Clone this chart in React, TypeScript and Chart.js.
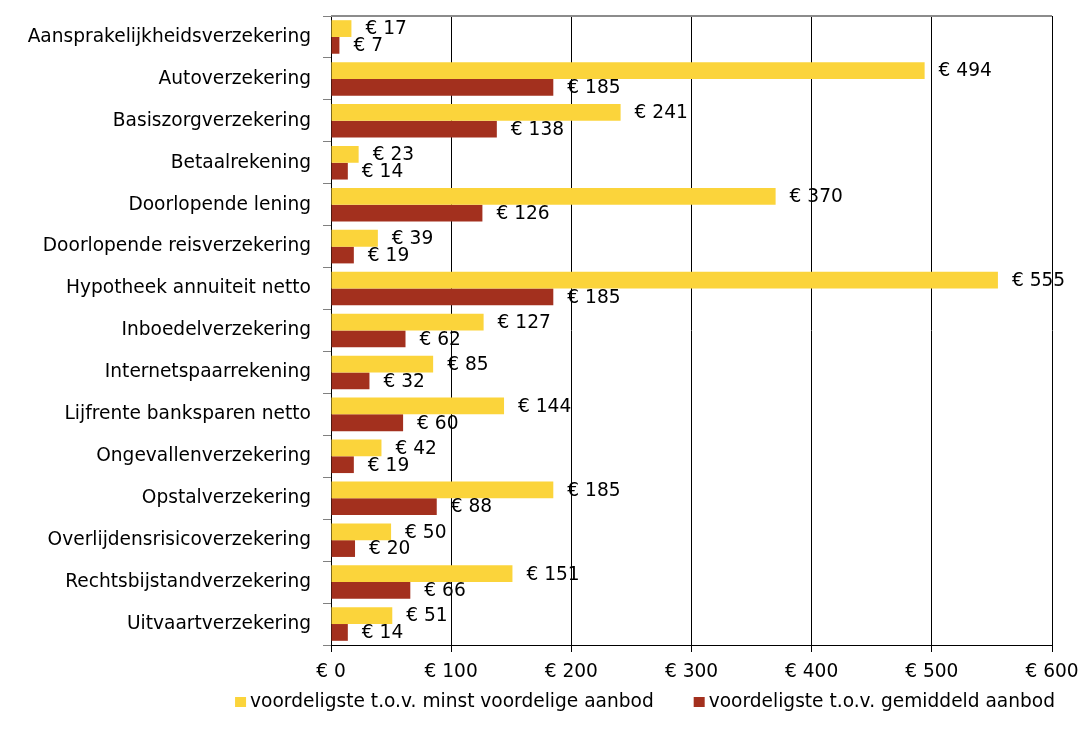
import React, { useEffect, useRef } from 'react';
import { Chart, registerables } from 'chart.js';

Chart.register(...registerables);

const categories = [
  'Aansprakelijkheidsverzekering',
  'Autoverzekering',
  'Basiszorgverzekering',
  'Betaalrekening',
  'Doorlopende lening',
  'Doorlopende reisverzekering',
  'Hypotheek annuiteit netto',
  'Inboedelverzekering',
  'Internetspaarrekening',
  'Lijfrente banksparen netto',
  'Ongevallenverzekering',
  'Opstalverzekering',
  'Overlijdensrisicoverzekering',
  'Rechtsbijstandverzekering',
  'Uitvaartverzekering',
];

const minstVoordelig = [17, 494, 241, 23, 370, 39, 555, 127, 85, 144, 42, 185, 50, 151, 51];
const gemiddeld = [7, 185, 138, 14, 126, 19, 185, 62, 32, 60, 19, 88, 20, 66, 14];

const seriesNames = [
  'voordeligste t.o.v. minst voordelige aanbod',
  'voordeligste t.o.v. gemiddeld aanbod',
];

const xMin = 0;
const xMax = 600;
const xStep = 100;
const currency = '€ ';

const FONT_FAMILY = '"DejaVu Sans", Verdana, sans-serif';
const FONT_SIZE = 18.6;
const YELLOW = '#FBD43B';
const RED = '#A3301E';

const valueLabels = {
  id: 'valueLabels',
  afterDatasetsDraw(chart: any) {
    const ctx = chart.ctx;
    ctx.save();
    ctx.font = `${FONT_SIZE}px ${FONT_FAMILY}`;
    ctx.fillStyle = '#000';
    ctx.textAlign = 'left';
    ctx.textBaseline = 'middle';
    chart.data.datasets.forEach((ds: any, i: number) => {
      const meta = chart.getDatasetMeta(i);
      meta.data.forEach((bar: any, j: number) => {
        ctx.fillText(currency + ds.data[j], bar.x + 14, bar.y + 1);
      });
    });
    ctx.restore();
  },
};

const topBorder = {
  id: 'topBorder',
  beforeDatasetsDraw(chart: any) {
    const { ctx, chartArea } = chart;
    ctx.save();
    ctx.strokeStyle = '#8c8c8c';
    ctx.lineWidth = 2;
    ctx.beginPath();
    ctx.moveTo(chartArea.left, chartArea.top);
    ctx.lineTo(chartArea.right, chartArea.top);
    ctx.stroke();
    ctx.restore();
  },
};

// Legend drawn below the axis: box, small gap, text; items separated by a wider gap.
const bottomLegend = {
  id: 'bottomLegend',
  afterDraw(chart: any) {
    const { ctx, chartArea } = chart;
    const box = 11;
    const boxGap = 4;
    const itemGap = 40;
    ctx.save();
    ctx.font = `${FONT_SIZE}px ${FONT_FAMILY}`;
    ctx.textBaseline = 'middle';
    ctx.textAlign = 'left';
    const items = chart.data.datasets.map((ds: any) => ({
      text: ds.label,
      color: ds.backgroundColor,
      width: box + boxGap + ctx.measureText(ds.label).width,
    }));
    const total = items.reduce((s: number, it: any) => s + it.width, 0) + itemGap * (items.length - 1);
    let x = chartArea.right + 3 - total;
    const y = chartArea.bottom + 57;
    items.forEach((it: any) => {
      ctx.fillStyle = it.color;
      ctx.fillRect(x, y - 5, box, 10);
      ctx.fillStyle = '#000';
      ctx.fillText(it.text, x + box + boxGap, y);
      x += it.width + itemGap;
    });
    ctx.restore();
  },
};

export default function App() {
  const canvasRef = useRef<HTMLCanvasElement | null>(null);

  useEffect(() => {
    document.body.style.margin = '0';
    const canvas = canvasRef.current;
    if (!canvas) return;
    const chart = new Chart(canvas, {
      type: 'bar',
      data: {
        labels: categories,
        datasets: [
          {
            label: seriesNames[0],
            data: minstVoordelig,
            backgroundColor: YELLOW,
            categoryPercentage: 0.8,
            barPercentage: 1.0,
          },
          {
            label: seriesNames[1],
            data: gemiddeld,
            backgroundColor: RED,
            categoryPercentage: 0.8,
            barPercentage: 1.0,
          },
        ],
      },
      options: {
        indexAxis: 'y',
        responsive: false,
        animation: false,
        layout: { padding: { left: 0, right: 0, top: 16, bottom: 51 } },
        font: { family: FONT_FAMILY, size: FONT_SIZE },
        color: '#000',
        plugins: {
          tooltip: { enabled: false },
          legend: { display: false },
        },
        scales: {
          x: {
            type: 'linear',
            min: xMin,
            max: xMax,
            ticks: {
              stepSize: xStep,
              font: { family: FONT_FAMILY, size: FONT_SIZE },
              color: '#000',
              padding: 9,
              callback: (v: any) => currency + v,
            },
            grid: {
              color: '#000',
              lineWidth: 1,
              tickLength: 7,
            },
            border: { color: '#000', width: 1 },
            afterFit: (scale: any) => {
              scale.height = 37;
              scale.paddingRight = 32;
              scale.paddingLeft = 0;
            },
          },
          y: {
            type: 'category',
            ticks: {
              font: { family: FONT_FAMILY, size: FONT_SIZE },
              color: '#000',
              padding: 12,
              autoSkip: false,
            },
            grid: {
              color: '#808080',
              drawOnChartArea: false,
              tickLength: 8,
              offset: true,
            },
            border: { color: '#000', width: 1 },
            afterFit: (scale: any) => {
              scale.width = 331;
              scale.paddingTop = 0;
              scale.paddingBottom = 0;
            },
          },
        },
      },
      plugins: [valueLabels, topBorder, bottomLegend],
    } as any);
    return () => chart.destroy();
  }, []);

  return (
    <div style={{ width: 1084, height: 733, background: '#fff' }}>
      <canvas ref={canvasRef} width={1084} height={733} style={{ display: 'block' }} />
    </div>
  );
}
